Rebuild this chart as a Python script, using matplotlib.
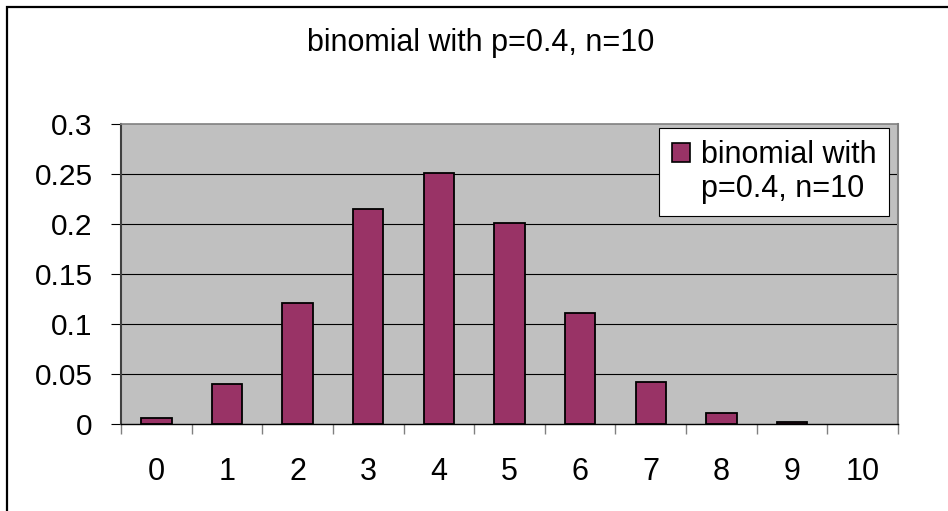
import matplotlib.pyplot as plt
from matplotlib.patches import Rectangle
import numpy as np

plt.rcParams['font.family'] = ['Liberation Sans', 'DejaVu Sans']

# binomial pmf, p=0.4, n=10
k_values = [0, 1, 2, 3, 4, 5, 6, 7, 8, 9, 10]
probs = [0.006, 0.040, 0.121, 0.215, 0.251, 0.201, 0.111, 0.042, 0.011, 0.002, 0.0]
y_ticks = [0, 0.05, 0.1, 0.15, 0.2, 0.25, 0.3]
y_labels = ['0', '0.05', '0.1', '0.15', '0.2', '0.25', '0.3']
title = 'binomial with p=0.4, n=10'

W, H = 948, 511
fig = plt.figure(figsize=(W / 100, H / 100), dpi=100)
fig.patch.set_facecolor('white')

# chart frame (runs off the right and bottom edge)
fig.patches.append(Rectangle((6.5 / W, -0.2), 1.5, 1.2 - 6.5 / H,
                             transform=fig.transFigure, fill=False,
                             edgecolor='black', linewidth=1.6))

ax = fig.add_axes([121 / W, 87 / H, 777 / W, 300 / H])
ax.set_facecolor('#c0c0c0')

x = np.arange(len(k_values))
edges = ['black' if p > 0 else 'none' for p in probs]
ax.bar(x, probs, width=0.43, color='#993366', edgecolor=edges,
       linewidth=1.3, zorder=3)

ax.set_xlim(-0.5, len(k_values) - 0.5)
ax.set_ylim(0, 0.3)

ax.set_yticks(y_ticks)
ax.set_yticklabels(y_labels, fontsize=21.5)
ax.tick_params(axis='y', direction='out', length=7.5, width=0.8,
               color='black', pad=13)

ax.set_xticks(x)
ax.set_xticklabels([str(k) for k in k_values], fontsize=22)
ax.set_xticks(np.arange(-0.5, len(k_values)), minor=True)
ax.tick_params(axis='x', which='major', length=0, pad=24)
ax.tick_params(axis='x', which='minor', direction='out', length=7.5,
               width=1.0, color='#808080')

ax.set_axisbelow(True)
ax.yaxis.grid(True, color='black', linewidth=0.8)
gl = ax.get_ygridlines()
gl[0].set_visible(False)
gl[-1].set_visible(False)

ax.spines['left'].set_color('#404040')
ax.spines['left'].set_linewidth(1.5)
ax.spines['bottom'].set_color('black')
ax.spines['bottom'].set_linewidth(1.0)
ax.spines['top'].set_color('#808080')
ax.spines['top'].set_linewidth(1.2)
ax.spines['right'].set_color('#808080')
ax.spines['right'].set_linewidth(1.5)

# legend: the second line gets an empty handle so the swatch sits on line one
h1 = Rectangle((0, 0), 1, 1, facecolor='#993366', edgecolor='black', linewidth=1.2)
h2 = Rectangle((0, 0), 1, 1, fill=False, edgecolor='none')
leg = ax.legend([h1, h2], ['binomial with', 'p=0.4, n=10'],
                loc='upper right', bbox_to_anchor=(889 / W, 1 - 128 / H),
                bbox_transform=fig.transFigure, fontsize=22, frameon=True,
                fancybox=False, framealpha=1, edgecolor='black',
                handlelength=0.6, handleheight=0.6, handletextpad=0.37,
                labelspacing=0.12, borderpad=0.4, borderaxespad=0)
leg.get_frame().set_linewidth(0.8)
leg.set_zorder(5)

fig.text(481 / W, 1 - 43 / H, title, ha='center', va='center', fontsize=22)

fig.savefig('out.png', dpi=100)
